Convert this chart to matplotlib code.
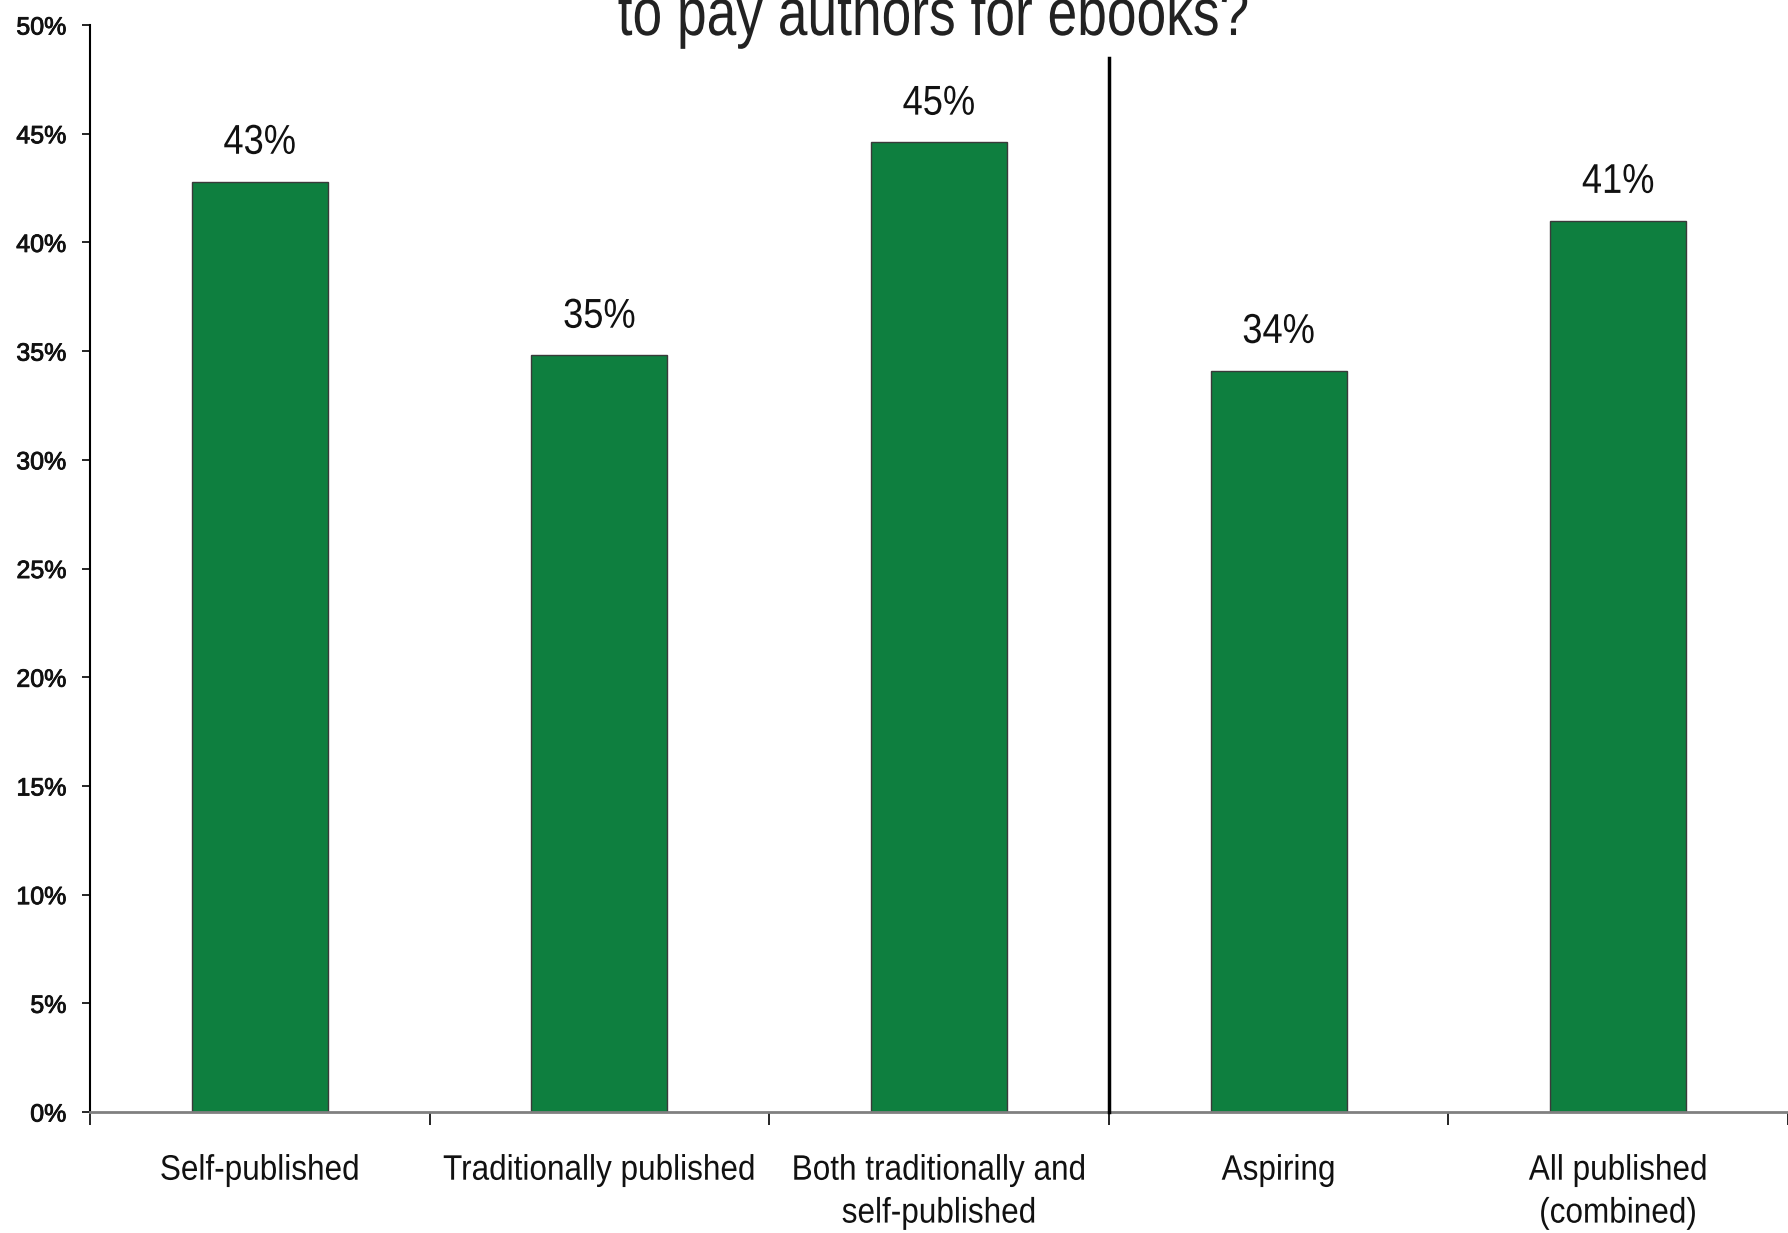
import matplotlib
matplotlib.use("Agg")
import matplotlib.pyplot as plt
from matplotlib.ticker import FixedLocator
from matplotlib.patheffects import AbstractPathEffect, withStroke
from matplotlib.transforms import Affine2D

categories = ["Self-published", "Traditionally published",
              "Both traditionally and\nself-published", "Aspiring",
              "All published\n(combined)"]
values = [42.8, 34.8, 44.6, 34.1, 41.0]
y_ticks = [0, 5, 10, 15, 20, 25, 30, 35, 40, 45, 50]
title_text = "to pay authors for ebooks?"

FONT = "Liberation Sans"


class Condense(AbstractPathEffect):
    """Narrow each text line horizontally about its own centre."""

    def __init__(self, factor):
        super().__init__()
        self.factor = factor

    def draw_path(self, renderer, gc, tpath, affine, rgbFace=None):
        ext = tpath.get_extents()
        cx = 0.5 * (ext.x0 + ext.x1)
        squeeze = Affine2D().translate(-cx, 0).scale(self.factor, 1).translate(cx, 0)
        renderer.draw_path(gc, tpath, squeeze + affine, rgbFace)


fig = plt.figure(figsize=(17.88, 12.33), dpi=100)
ax = fig.add_axes([0.0503, 0.0981, 0.9497, 0.8816])

x = list(range(len(categories)))
ax.bar(x, values, width=0.4, color="#0e7f3f", edgecolor="#3a3a3a", linewidth=1.0, zorder=2)

for xi, v in zip(x, values):
    t = ax.annotate(f"{v:.0f}%", xy=(xi, v), xytext=(0, 20), textcoords="offset points",
                    ha="center", va="baseline", fontsize=30, family=FONT, color="#111111")
    t.set_path_effects([Condense(0.87)])

# divider between published groups and aspiring authors
ax.plot([2.5, 2.5], [0, 48.5], color="black", linewidth=2.5, zorder=3, clip_on=False)

ax.set_xlim(-0.5, 4.5)
ax.set_ylim(0, 50)

ax.set_yticks(y_ticks)
ax.set_yticklabels([f"{t}%" for t in y_ticks], fontsize=18, family=FONT, color="#111111")
for lab in ax.get_yticklabels():
    lab.set_path_effects([withStroke(linewidth=0.6, foreground="#111111")])
ax.tick_params(axis="y", direction="out", length=6, width=1.2, pad=11, color="black")

ax.set_xticks(x)
ax.set_xticklabels(categories, fontsize=25.5, family=FONT, color="#111111", linespacing=1.38)
for lab in ax.get_xticklabels():
    lab.set_path_effects([Condense(0.89)])
ax.tick_params(axis="x", which="major", length=0, pad=30)
ax.xaxis.set_minor_locator(FixedLocator([-0.5, 0.5, 1.5, 2.5, 3.5, 4.5]))
ax.tick_params(axis="x", which="minor", direction="out", length=9, width=1.2, color="black")

for s in ("top", "right"):
    ax.spines[s].set_visible(False)
ax.spines["left"].set_color("black")
ax.spines["left"].set_linewidth(1.5)
ax.spines["bottom"].set_color("#808080")
ax.spines["bottom"].set_linewidth(2)

title = fig.text(0.522, 0.9716, title_text, ha="center", va="baseline", fontsize=48,
                 family=FONT, color="#222222")
title.set_path_effects([Condense(0.80)])

fig.savefig("out.png", dpi=100, facecolor="white")
